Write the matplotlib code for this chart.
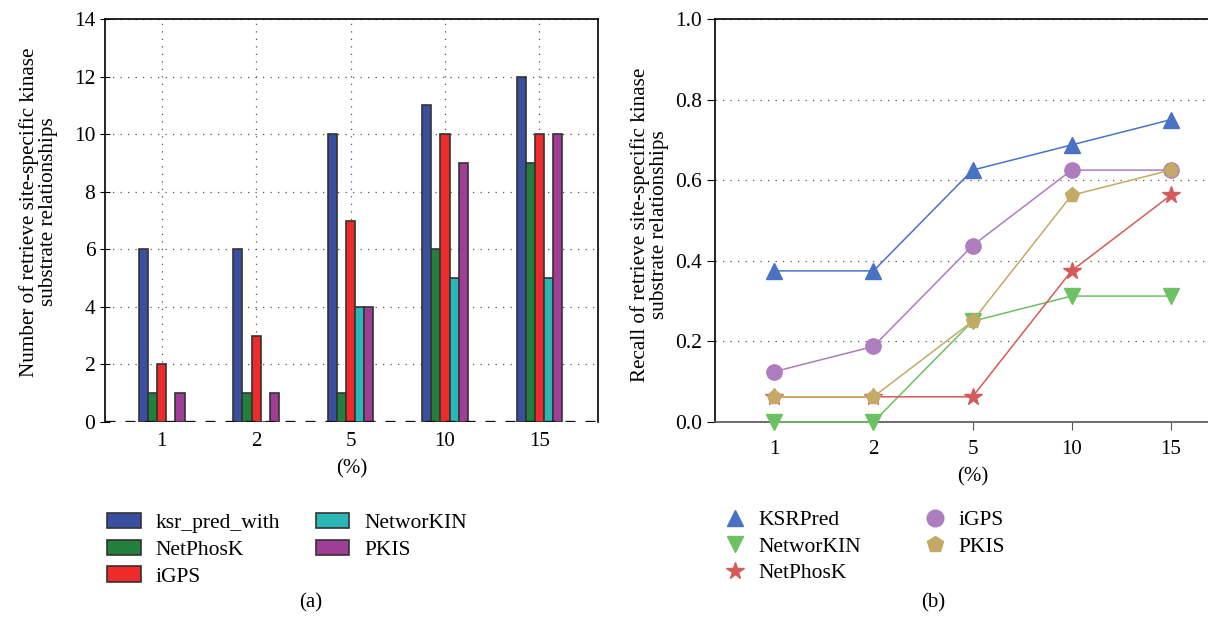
import numpy as np
import matplotlib.pyplot as plt
from matplotlib.patches import Patch
from matplotlib.lines import Line2D

plt.rcParams['font.family'] = ['Liberation Serif', 'DejaVu Serif']

groups = ['1', '2', '5', '10', '15']

# (a) counts
bar_names = ['ksr_pred_with', 'NetPhosK', 'iGPS', 'NetworKIN', 'PKIS']
ksr_pred_with = [6, 6, 10, 11, 12]
netphosk_cnt = [1, 1, 1, 6, 9]
igps_cnt = [2, 3, 7, 10, 10]
networkin_cnt = [0, 0, 4, 5, 5]
pkis_cnt = [1, 1, 4, 9, 10]
bar_colors = ['#3a4fa0', '#23803c', '#ee2a2a', '#2bb7b8', '#a03d97']

# (b) recall
line_names = ['KSRPred', 'NetworKIN', 'NetPhosK', 'iGPS', 'PKIS']
ksrpred_rec = [0.375, 0.375, 0.625, 0.6875, 0.75]
networkin_rec = [0.0, 0.0, 0.25, 0.3125, 0.3125]
netphosk_rec = [0.0625, 0.0625, 0.0625, 0.375, 0.5625]
igps_rec = [0.125, 0.1875, 0.4375, 0.625, 0.625]
pkis_rec = [0.0625, 0.0625, 0.25, 0.5625, 0.625]
line_colors = ['#4a72c4', '#6cc163', '#d65a5a', '#ad7dbd', '#c4aa66']
line_markers = ['^', 'v', '*', 'o', 'p']

W, H = 1208, 618
fig = plt.figure(figsize=(W / 100, H / 100), dpi=100)

dots = (0, (1, 5))
ylab_fs = 15.2

# ---- left: bar chart
ax1 = fig.add_axes([105 / W, 1 - 422 / H, (598 - 105) / W, (422 - 19) / H])
x = np.arange(len(groups))
bw = 0.097
counts = [ksr_pred_with, netphosk_cnt, igps_cnt, networkin_cnt, pkis_cnt]
for i, vals in enumerate(counts):
    ax1.bar(x + (i - 2) * bw, vals, bw, color=bar_colors[i], edgecolor='#333333',
            linewidth=1.2, zorder=3, label=bar_names[i])
ax1.axhline(0, color='#111111', ls=(0, (3, 3)), lw=2.4, zorder=4)
ax1.set_xlim(-0.6, 4.62)
ax1.set_ylim(0, 14)
ax1.set_yticks(range(0, 15, 2))
ax1.set_xticks(x)
ax1.set_xticklabels(groups)
ax1.tick_params(axis='x', length=0, labelsize=15, pad=7)
ax1.tick_params(axis='y', direction='inout', length=7, labelsize=15.5)
ax1.grid(True, color='#555555', ls=dots, lw=0.9, zorder=0)
ax1.spines['bottom'].set_visible(False)
for s in ['left', 'top', 'right']:
    ax1.spines[s].set_linewidth(1.2)
ax1.set_xlabel('(%)', fontsize=15, labelpad=6)
ax1.set_ylabel('Number of retrieve site-specific kinase\nsubstrate relationships',
               fontsize=ylab_fs, linespacing=1.0)
ax1.yaxis.set_label_coords((58 - 105) / 493, (422 - 212) / 403)

handles1 = [Patch(facecolor=c, edgecolor='#333333', linewidth=1.2) for c in bar_colors]
fig.legend(handles1, bar_names, loc='upper left', bbox_to_anchor=(88 / W, 1 - 494 / H),
           ncol=2, frameon=False, fontsize=15.5, handlelength=1.55, handleheight=0.7,
           columnspacing=1.65, labelspacing=0.3, handletextpad=0.7)

# ---- right: recall lines
ax2 = fig.add_axes([715 / W, 1 - 422 / H, (1230 - 715) / W, (422 - 19) / H])
recalls = [ksrpred_rec, networkin_rec, netphosk_rec, igps_rec, pkis_rec]
for i, vals in enumerate(recalls):
    ms = 13 if line_markers[i] == '*' else 11
    ax2.plot(x, vals, color=line_colors[i], marker=line_markers[i], markersize=ms,
             lw=1.1, clip_on=False, zorder=3, label=line_names[i])
ax2.set_xlim(-0.6, 4.6)
ax2.set_ylim(0, 1.0)
ax2.set_yticks(np.arange(0, 1.01, 0.2))
ax2.set_yticklabels(['%.1f' % v for v in np.arange(0, 1.01, 0.2)])
ax2.set_xticks(x)
ax2.set_xticklabels(groups)
ax2.tick_params(axis='x', direction='out', length=6, labelsize=15, pad=7, color='#555555')
ax2.tick_params(axis='y', direction='out', length=6, labelsize=15.5)
ax2.yaxis.grid(True, color='#555555', ls=dots, lw=0.9, zorder=0)
ax2.spines['bottom'].set_color('#555555')
for s in ['left', 'top', 'right', 'bottom']:
    ax2.spines[s].set_linewidth(1.2)
ax2.set_xlabel('(%)', fontsize=15, labelpad=6)
ax2.set_ylabel('Recall of retrieve site-specific kinase\nsubstrate relationships',
               fontsize=ylab_fs, linespacing=1.0)
ax2.yaxis.set_label_coords((669 - 715) / 515, (422 - 225) / 403)

handles2 = [Line2D([], [], ls='none', marker=m, color=c, markersize=13 if m == '*' else 12)
            for m, c in zip(line_markers, line_colors)]
fig.legend(handles2, line_names, loc='upper left', bbox_to_anchor=(705 / W, 1 - 491 / H),
           ncol=2, frameon=False, fontsize=15.5, handlelength=1.0,
           columnspacing=2.9, labelspacing=0.3, handletextpad=0.6)

fig.text(311 / W, 1 - 603 / H, '(a)', ha='center', va='center', fontsize=15)
fig.text(933 / W, 1 - 603 / H, '(b)', ha='center', va='center', fontsize=15)

fig.savefig('out.png', dpi=100)
